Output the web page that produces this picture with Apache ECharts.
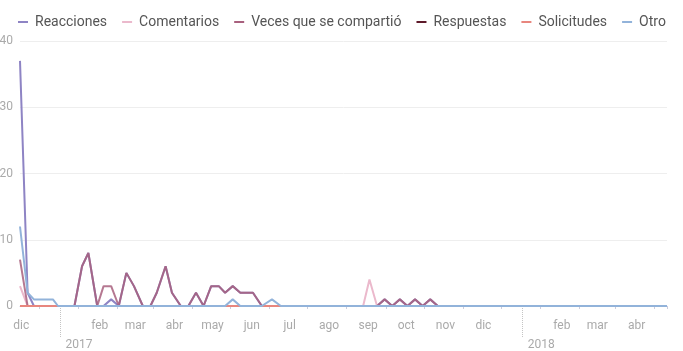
<!DOCTYPE html>
<html>
<head>
<meta charset="utf-8">
<script src="https://cdn.jsdelivr.net/npm/echarts@6/dist/echarts.min.js"></script>
<style>html,body{margin:0;padding:0;background:#fff}#c{width:683px;height:351px}</style>
</head>
<body>
<div id="c"></div>
<script>
// ---- data ----
const fechas = ['2016-11-30','2016-12-06','2016-12-11','2016-12-18','2016-12-26','2016-12-30',
  '2017-01-12','2017-01-18','2017-01-23','2017-01-30','2017-02-04','2017-02-10','2017-02-16','2017-02-22','2017-02-28',
  '2017-03-07','2017-03-13','2017-03-18','2017-03-25','2017-03-30','2017-04-06','2017-04-12','2017-04-18','2017-04-24','2017-04-30',
  '2017-05-06','2017-05-11','2017-05-17','2017-05-23','2017-05-28','2017-06-02','2017-06-09','2017-06-17','2017-06-24',
  '2017-08-28','2017-09-02','2017-09-08','2017-09-14','2017-09-20','2017-09-26','2017-10-02','2017-10-08','2017-10-14','2017-10-20','2017-10-26',
  '2018-04-25'];
const reacciones  = [37,2,0,0,0,0, 0,6,8,0,0,1,0,5,3, 0,0,2,6,2,0,0,2,0,3, 3,2,3,2,2,2,0,0,0, 0,0,0,1,0,1,0,1,0,1,0, 0];
const comentarios = [3,0,0,0,0,0, 0,0,0,0,0,0,0,0,0, 0,0,0,0,0,0,0,0,0,0, 0,0,0,0,0,0,0,0,0, 0,4,0,0,0,0,0,0,0,0,0, 0];
const compartido  = [7,0,0,0,0,0, 0,6,8,0,3,3,0,5,3, 0,0,2,6,2,0,0,2,0,3, 3,2,3,2,2,2,0,0,0, 0,0,0,1,0,1,0,1,0,1,0, 0];
const respuestas  = [0,0,0,0,0,0, 0,0,0,0,0,0,0,0,0, 0,0,0,0,0,0,0,0,0,0, 0,0,0,0,0,0,0,0,0, 0,0,0,0,0,0,0,0,0,0,0, 0];
const solicitudes = [0,0,0,0,0,0, 0,0,0,0,0,0,0,0,0, 0,0,0,0,0,0,0,0,0,0, 0,0,0,0,0,0,0,0,0, 0,0,0,0,0,0,0,0,0,0,0, 0];
const otro        = [12,2,1,1,1,0, 0,0,0,0,0,0,0,0,0, 0,0,0,0,0,0,0,0,0,0, 0,0,1,0,0,0,0,1,0, 0,0,0,0,0,0,0,0,0,0,0, 0];
const nombres = ['Reacciones','Comentarios','Veces que se compartió','Respuestas','Solicitudes','Otro'];
const mesesFechas = ['2016-12-01','2017-02-01','2017-03-01','2017-04-01','2017-05-01','2017-06-01','2017-07-01','2017-08-01',
  '2017-09-01','2017-10-01','2017-11-01','2017-12-01','2018-02-01','2018-03-01','2018-04-01'];
const mesesEtiquetas = ['dic','feb','mar','abr','may','jun','jul','ago','sep','oct','nov','dic','feb','mar','abr'];
const marcasFechas = ['2016-12-15','2017-01-15','2017-02-15','2017-03-15','2017-04-15','2017-05-15','2017-06-15','2017-07-15',
  '2017-08-15','2017-09-15','2017-10-15','2017-11-15','2017-12-15','2018-01-15','2018-02-15','2018-03-15','2018-04-15'];
const aniosFechas = ['2017-01-01','2018-01-01'];
const aniosEtiquetas = ['2017','2018'];
const yTicks = [0,10,20,30,40];

// ---- helpers ----
const base = Date.UTC(2017,0,1);
function dia(s){const p=s.split('-');return Math.round((Date.UTC(+p[0],+p[1]-1,+p[2])-base)/86400000);}
const xs = fechas.map(dia);
const xMin = xs[0], xMax = xs[xs.length-1];
const mesVals = mesesFechas.map(dia);
const anioVals = aniosFechas.map(dia);
const colores = ['#8e84c4','#ebb9cc','#a8607e','#5e1a2a','#e8867e','#92b3da'];
const valores = [reacciones,comentarios,compartido,respuestas,solicitudes,otro];

const chart = echarts.init(document.getElementById('c'), null, {renderer:'canvas'});
chart.setOption({
  animation:false,
  textStyle:{fontFamily:'Roboto, sans-serif'},
  color:colores,
  legend:{
    top:10, left:13, width:670, itemWidth:10, itemHeight:2, itemGap:15, icon:'rect',
    textStyle:{color:'#555', fontSize:14, padding:[0,0,0,2]},
    data:nombres
  },
  grid:{left:20, right:16, top:41, bottom:45, containLabel:false, outerBoundsMode:'none'},
  xAxis:[{
    type:'value', min:xMin, max:xMax,
    axisLine:{lineStyle:{color:'#c8cce0', width:1}},
    splitLine:{show:false},
    axisTick:{show:true, customValues:marcasFechas.map(dia).concat([xMax]), length:3, lineStyle:{color:'#ccd'}},
    axisLabel:{customValues:mesVals, margin:14, color:'#aaa', fontSize:12,
      formatter:v=>{const i=mesVals.indexOf(v);return i>=0?mesesEtiquetas[i]:'';}}
  },{
    type:'value', min:xMin, max:xMax, position:'bottom',
    axisLine:{show:false}, splitLine:{show:false},
    axisTick:{show:true, customValues:anioVals, length:32, lineStyle:{color:'#c4c4c4', type:'dotted'}},
    axisLabel:{customValues:anioVals, margin:33, color:'#aaa', fontSize:12, align:'left', padding:[0,0,0,5],
      formatter:v=>{const i=anioVals.indexOf(v);return i>=0?aniosEtiquetas[i]:'';}}
  }],
  yAxis:{
    type:'value', min:yTicks[0], max:yTicks[yTicks.length-1], interval:10,
    axisLine:{show:false}, axisTick:{show:false},
    axisLabel:{color:'#aaa', fontSize:12, margin:7},
    splitLine:{lineStyle:{color:'#eeeeee'}}
  },
  series:nombres.map((n,k)=>({
    name:n, type:'line', showSymbol:false, symbol:'none',
    lineStyle:{width:2, color:colores[k], opacity:(k===2?0.85:1)},
    data:xs.map((x,i)=>[x,valores[k][i]])
  }))
});
</script>
</body>
</html>
